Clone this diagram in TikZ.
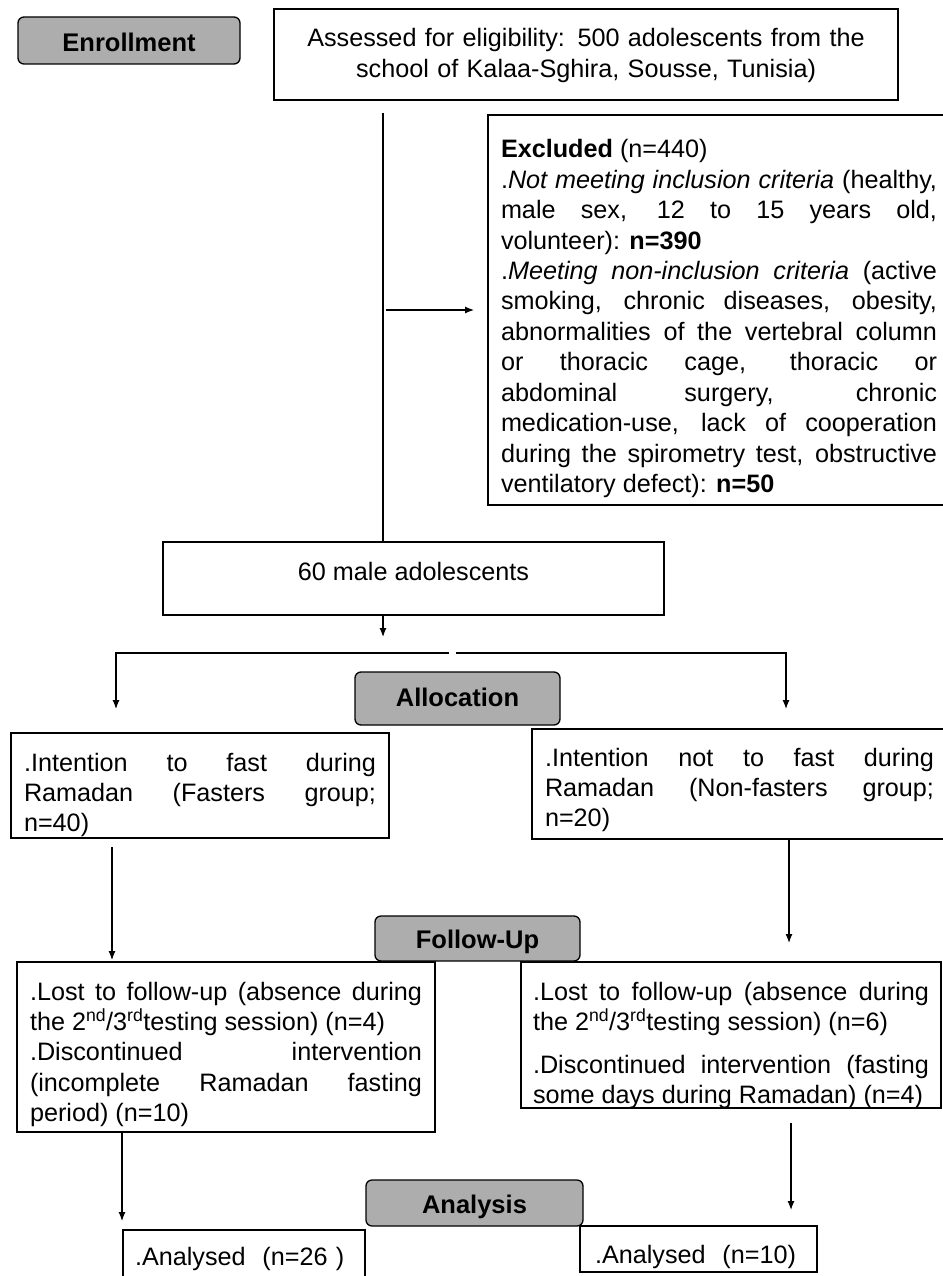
\documentclass[tikz,border=0pt]{standalone}
\usepackage{fontspec}
\setmainfont{Liberation Sans}
\usetikzlibrary{arrows.meta,calc}
\definecolor{labelgray}{RGB}{173,173,173}
\tolerance=10000
\hyphenpenalty=10000
\exhyphenpenalty=10000

\begin{document}
\begin{tikzpicture}[x=1pt,y=-1pt,
  box/.style={draw,line width=1.3pt,anchor=north west,outer sep=0pt,inner ysep=0pt,inner xsep=13pt,
    font=\fontsize{25.2}{30.4}\selectfont},
  lbl/.style={draw,line width=1.3pt,rounded corners=6pt,fill=labelgray,anchor=north west,outer sep=0pt,
    inner ysep=0pt,font=\fontsize{25.5}{30}\selectfont\bfseries},
  arr/.style={line width=1.2pt,-{Latex[length=9pt,width=7pt]}}]
\useasboundingbox (0,0) rectangle (942,1276);

\node[box,text width=598pt,align=center,text height=38pt,text depth=53pt] (assess) at (274,9)
  {Assessed for eligibility: 500 adolescents from the\\school of Kalaa-Sghira, Sousse, Tunisia)};
\node[box,text width=436pt,align=justify,text height=43pt,text depth=347pt] (excl) at (488,115)
  {\textbf{Excluded} (n=440)\par
   .\textit{Not meeting inclusion criteria} (healthy,\linebreak
   male sex, 12 to 15 years old,\linebreak
   volunteer): \textbf{n=390}\par
   .\textit{Meeting non-inclusion criteria} (active\linebreak
   smoking, chronic diseases, obesity,\linebreak
   abnormalities of the vertebral column\linebreak
   or thoracic cage, thoracic or\linebreak
   abdominal surgery, chronic\linebreak
   medication-use, lack of cooperation\linebreak
   during the spirometry test, obstructive\linebreak
   ventilatory defect): \textbf{n=50}};
\node[box,minimum width=501pt,text height=38pt,text depth=35pt] (male) at (163,542) {60 male adolescents};
\node[box,text width=352pt,align=justify,text height=38pt,text depth=67pt] (fast) at (11,733)
  {.Intention to fast during\linebreak Ramadan (Fasters group;\linebreak n=40)};
\node[box,text width=389pt,align=justify,text height=37pt,text depth=73pt] (nonfast) at (532,729)
  {.Intention not to fast during\linebreak Ramadan (Non-fasters group;\linebreak n=20)};
\node[box,text width=392pt,align=justify,text height=38pt,text depth=132pt] (lostL) at (17,962)
  {.Lost to follow-up (absence during\linebreak
   the 2\textsuperscript{nd}/3\textsuperscript{rd}testing session) (n=4)\par
   .Discontinued intervention\linebreak
   (incomplete Ramadan fasting\linebreak
   period) (n=10)};
\node[box,inner xsep=12pt,text width=396pt,align=justify,text height=38pt,text depth=108pt] (lostR) at (521,962)
  {.Lost to follow-up (absence during\linebreak
   the 2\textsuperscript{nd}/3\textsuperscript{rd}testing session) (n=6)\par\vspace{12.6pt}
   .Discontinued intervention (fasting\linebreak
   some days during Ramadan) (n=4)};
\node[box,inner xsep=12pt,text width=218pt,text height=35pt,text depth=60pt] (anL) at (123,1230) {.Analysed~ (n=26 )};
\node[box,inner xsep=15pt,text width=207pt,text height=37pt,text depth=9pt] (anR) at (580,1226) {.Analysed~ (n=10)};

\node[lbl,minimum width=222pt,text height=35pt,text depth=12pt] (enrol) at (18,17) {Enrollment};
\node[lbl,minimum width=205pt,text height=34pt,text depth=19pt] (alloc) at (355,672) {Allocation};
\node[lbl,minimum width=205pt,text height=32pt,text depth=13pt] (follow) at (375,916) {Follow-Up};
\node[lbl,minimum width=217pt,text height=33pt,text depth=13pt] (analysis) at (366,1180) {Analysis};

\coordinate (trunk) at (383,113);
\coordinate (splitL) at (449,653);
\coordinate (splitR) at (456,653);
\draw[line width=1.2pt] (trunk) -- (trunk |- male.north);
\draw[arr,shorten <=3pt,shorten >=14pt] (trunk |- excl.west) -- (excl.west);
\draw[arr] (trunk |- male.south) -- ++(0,22);
\draw[arr,shorten >=24pt] (splitL) -| ($(fast.north west)+(105,0)$);
\draw[arr,shorten >=20pt] (splitR) -| ($(nonfast.north west)+(254,0)$);
\draw[arr,shorten <=9pt,shorten >=2pt] ($(fast.south west)+(101,0)$) -- ($(lostL.north west)+(95,0)$);
\draw[arr,shorten <=1pt,shorten >=19pt] ($(nonfast.south west)+(257,0)$) -- ($(lostR.north west)+(268,0)$);
\draw[arr,shorten >=9pt] ($(lostL.south west)+(105,0)$) -- ($(anL.north west)+(-1,0)$);
\draw[arr,shorten <=15pt,shorten >=16pt] ($(lostR.south west)+(270,0)$) -- ($(anR.north west)+(211,0)$);
\end{tikzpicture}
\end{document}
